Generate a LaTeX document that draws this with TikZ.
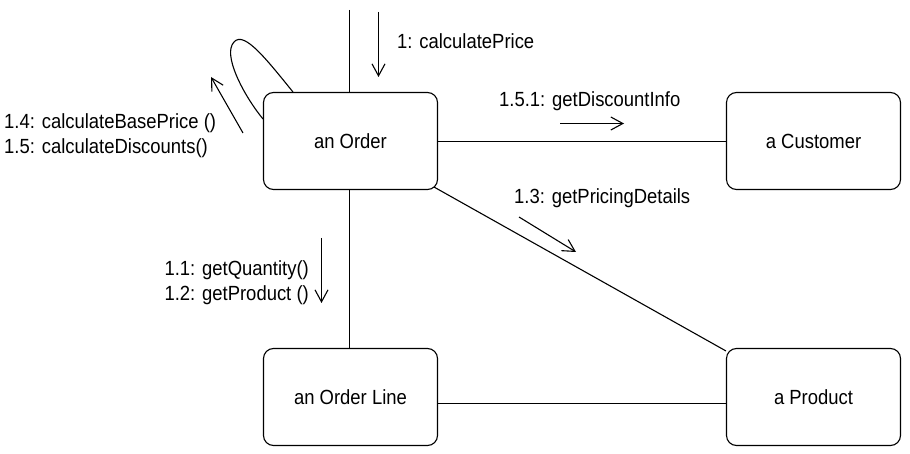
\documentclass[tikz,border=0pt]{standalone}
\usepackage{fontspec}
\setmainfont{Liberation Sans}[FakeStretch=0.9]
\usetikzlibrary{arrows.meta}
\begin{document}
\begin{tikzpicture}[x=1pt,y=-1pt,
  obj/.style={draw,line width=1.1pt,rounded corners=10pt,minimum width=174pt,minimum height=97pt,inner sep=0pt,
    font=\fontsize{20.5}{25}\selectfont},
  lbl/.style={inner sep=0pt,font=\fontsize{20.5}{25}\selectfont},
  link/.style={line width=1.1pt},
  msg/.style={line width=1.1pt,-{Straight Barb[length=12pt,width=13pt,line width=1.1pt]}}]
\useasboundingbox (0,0) rectangle (910,454);
\node[obj] (order) at (350.5,141) {an Order};
\node[obj] (customer) at (813.5,141) {a Customer};
\node[obj] (orderline) at (350.5,397) {an Order Line};
\node[obj] (product) at (813.5,397) {a Product};
% links
\coordinate (top) at (349.5,10);
\draw[link] (top) -- (order.north -| top);
\draw[link] (order.east |- 0,141.5) -- (customer.west |- 0,141.5);
\draw[link] (order.south -| top) -- (orderline.north -| top);
\draw[link] ([xshift=-4pt,yshift=3pt]order.south east) -- ([yshift=-3pt]product.north west);
\draw[link] (orderline.east |- 0,403.5) -- (product.west |- 0,403.5);
\draw[link] ([xshift=30pt]order.north west) .. controls (263,55) and (241,27) .. (232,45)
  .. controls (225,60) and (245,97) .. ([yshift=-27pt]order.north west);
% messages
\coordinate (m1a) at (378.5,12); \coordinate (m1b) at (378.5,77);
\draw[msg] (m1a) -- (m1b);
\node[lbl,anchor=west] (l1) at (397,41) {1: calculatePrice};
\coordinate (m151a) at (560,123.5); \coordinate (m151b) at (624,123.5);
\draw[msg] (m151a) -- (m151b);
\node[lbl,anchor=west] (l151) at (499,101) {1.5.1: getDiscountInfo};
\coordinate (m13a) at (519,217); \coordinate (m13b) at (576,252);
\draw[msg] (m13a) -- (m13b);
\node[lbl,anchor=west] (l13) at (514,198) {1.3: getPricingDetails};
\coordinate (m11a) at (321.5,238); \coordinate (m11b) at (321.5,303);
\draw[msg] (m11a) -- (m11b);
\node[lbl,anchor=east,align=right] (l11) at (309,283) {1.1: getQuantity()\\1.2: getProduct ()};
\coordinate (m14a) at (243,133); \coordinate (m14b) at (211,77);
\draw[msg] (m14a) -- (m14b);
\node[lbl,anchor=west,align=left] (l14) at (4,136) {1.4: calculateBasePrice ()\\1.5: calculateDiscounts()};
\end{tikzpicture}
\end{document}
